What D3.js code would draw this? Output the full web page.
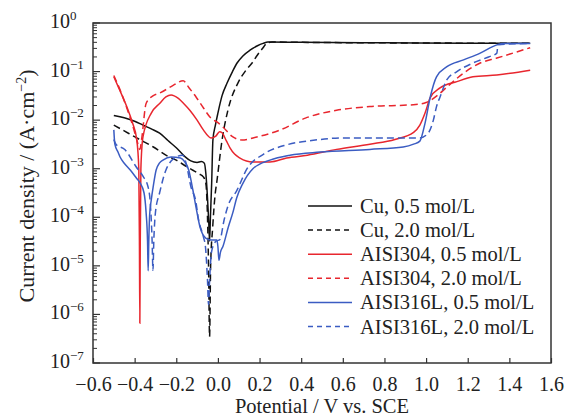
<!DOCTYPE html>
<html>
<head>
<meta charset="utf-8">
<script src="https://cdn.jsdelivr.net/npm/d3@7"></script>
<style>
  body { margin: 0; background: #fff; }
  svg { font-family: "Liberation Serif", "Times New Roman", serif; }
</style>
</head>
<body>
<svg id="chart" width="566" height="417"></svg>
<script>
// potential (V vs. SCE), current density (A/cm2)
let cu05 = [[-0.50, 1.25e-2], [-0.45, 1.12e-2], [-0.40, 9.5e-3], [-0.36, 7.9e-3], [-0.32, 6.6e-3],
  [-0.28, 5.4e-3], [-0.24, 3.8e-3], [-0.20, 2.7e-3], [-0.16, 1.8e-3], [-0.13, 1.45e-3], [-0.10, 1.35e-3],
  [-0.08, 1.4e-3], [-0.065, 1.3e-3], [-0.058, 8e-4], [-0.05, 2.5e-4], [-0.044, 8e-5], [-0.04, 3.2e-5],
  [-0.036, 1e-4], [-0.03, 5e-4], [-0.024, 3.9e-3], [-0.012, 7.9e-3], [0.0, 1.4e-2], [0.02, 3.2e-2],
  [0.044, 5.8e-2], [0.07, 0.1], [0.092, 0.15], [0.12, 0.21], [0.154, 0.275], [0.19, 0.34], [0.217, 0.38],
  [0.24, 0.405], [0.40, 0.40], [0.80, 0.39], [1.20, 0.385], [1.50, 0.385]]
let cu20 = [[-0.50, 7.9e-3], [-0.45, 6.0e-3], [-0.39, 4.3e-3], [-0.35, 3.5e-3], [-0.31, 2.8e-3],
  [-0.25, 1.9e-3], [-0.20, 1.5e-3], [-0.15, 1.1e-3], [-0.12, 9.3e-4], [-0.09, 7.8e-4], [-0.07, 6.8e-4],
  [-0.058, 5e-4], [-0.05, 1e-4], [-0.045, 1e-5], [-0.04, 3.5e-7], [-0.035, 1e-5], [-0.025, 6.3e-5],
  [-0.015, 2.5e-4], [-0.004, 5.9e-4], [0.02, 3.9e-3], [0.048, 1.6e-2], [0.096, 5.8e-2], [0.13, 0.1],
  [0.164, 0.15], [0.19, 0.22], [0.217, 0.31], [0.236, 0.39], [0.26, 0.405], [0.40, 0.40], [0.80, 0.39],
  [1.20, 0.385], [1.50, 0.385]]
let ss304_05 = [[-0.50, 7.8e-2], [-0.47, 4.0e-2], [-0.44, 2.0e-2], [-0.41, 8.7e-3], [-0.39, 4.0e-3],
  [-0.38, 1.0e-3], [-0.377, 3.2e-5], [-0.375, 6.6e-7], [-0.373, 3.2e-5], [-0.37, 1.0e-3], [-0.36, 4.5e-3],
  [-0.32, 1.4e-2], [-0.28, 2.2e-2], [-0.25, 3.0e-2], [-0.225, 3.3e-2], [-0.19, 2.8e-2], [-0.16, 2.1e-2],
  [-0.135, 1.6e-2], [-0.10, 1.0e-2], [-0.07, 6.3e-3], [-0.033, 4.3e-3], [-0.01, 4.7e-3], [0.008, 5.8e-3],
  [0.02, 5.5e-3], [0.04, 3.8e-3], [0.058, 2.7e-3], [0.08, 2.0e-3], [0.106, 1.66e-3], [0.168, 1.38e-3],
  [0.25, 1.38e-3], [0.33, 1.66e-3], [0.43, 1.9e-3], [0.57, 2.5e-3], [0.73, 3.2e-3], [0.85, 4.0e-3],
  [0.94, 5.6e-3], [0.97, 7.9e-3], [0.995, 1.4e-2], [1.02, 2.9e-2], [1.067, 4.6e-2], [1.148, 6.2e-2],
  [1.225, 7.8e-2], [1.34, 8.5e-2], [1.50, 0.107]]
let ss304_20 = [[-0.50, 8.3e-2], [-0.47, 4.2e-2], [-0.44, 1.9e-2], [-0.41, 7.9e-3], [-0.39, 4.0e-3],
  [-0.375, 2.5e-3], [-0.365, 4.5e-3], [-0.345, 2.2e-2], [-0.31, 3.2e-2], [-0.28, 3.6e-2], [-0.215, 5.2e-2],
  [-0.167, 6.5e-2], [-0.14, 4.7e-2], [-0.105, 3.0e-2], [-0.07, 1.8e-2], [-0.034, 1.1e-2], [0.0, 8.9e-3],
  [0.024, 7.2e-3], [0.072, 4.5e-3], [0.115, 3.9e-3], [0.187, 4.5e-3], [0.30, 6.3e-3], [0.42, 1.1e-2],
  [0.57, 1.6e-2], [0.73, 1.9e-2], [0.95, 2.1e-2], [1.0, 2.3e-2], [1.057, 3.3e-2], [1.10, 4.8e-2],
  [1.18, 9.3e-2], [1.26, 0.15], [1.34, 0.19], [1.50, 0.31]]
let ss316_05 = [[-0.50, 6.3e-3], [-0.495, 3.2e-3], [-0.48, 2.2e-3], [-0.47, 1.74e-3], [-0.45, 1.3e-3],
  [-0.42, 9.3e-4], [-0.39, 6.3e-4], [-0.374, 5.1e-4], [-0.355, 3.2e-4], [-0.345, 1.26e-4], [-0.338, 3.2e-5],
  [-0.335, 7.9e-6], [-0.332, 3.2e-5], [-0.328, 1.1e-4], [-0.32, 2.3e-4], [-0.31, 4.5e-4], [-0.297, 9.3e-4],
  [-0.28, 1.32e-3], [-0.264, 1.5e-3], [-0.225, 1.74e-3], [-0.18, 1.66e-3], [-0.16, 1.4e-3], [-0.14, 9.3e-4],
  [-0.12, 3.6e-4], [-0.105, 1.6e-4], [-0.086, 6.3e-5], [-0.057, 3.7e-5], [-0.03, 3.4e-5], [-0.005, 3.4e-5],
  [0.0, 2.5e-5], [0.005, 1.3e-5], [0.012, 1.9e-5], [0.024, 2.5e-5], [0.05, 6.3e-5], [0.072, 1.26e-4],
  [0.09, 2.5e-4], [0.12, 5.0e-4], [0.168, 1.0e-3], [0.25, 1.5e-3], [0.346, 1.9e-3], [0.49, 2.2e-3],
  [0.73, 2.5e-3], [0.89, 2.8e-3], [0.94, 3.2e-3], [0.97, 3.7e-3], [0.995, 8.7e-3], [1.02, 3.0e-2],
  [1.05, 7.8e-2], [1.10, 0.126], [1.18, 0.174], [1.26, 0.24], [1.34, 0.355], [1.37, 0.38], [1.50, 0.38]]
let ss316_20 = [[-0.50, 4.0e-3], [-0.49, 3.2e-3], [-0.446, 2.45e-3], [-0.393, 1.1e-3], [-0.36, 7.0e-4],
  [-0.336, 4.3e-4], [-0.325, 2.0e-4], [-0.316, 3.2e-5], [-0.312, 8.1e-6], [-0.308, 3.2e-5], [-0.30, 1.26e-4],
  [-0.28, 3.2e-4], [-0.25, 9.3e-4], [-0.20, 1.74e-3], [-0.17, 1.9e-3], [-0.153, 1.3e-3], [-0.13, 4.3e-4],
  [-0.105, 2.0e-4], [-0.095, 1.0e-4], [-0.07, 4.0e-5], [-0.06, 2.5e-5], [-0.05, 5.0e-6], [-0.045, 1.6e-6],
  [-0.04, 5.0e-6], [-0.03, 2.0e-5], [-0.01, 3.2e-5], [0.01, 3.5e-5], [0.03, 8.9e-5], [0.05, 1.8e-4],
  [0.09, 3.5e-4], [0.14, 1.0e-3], [0.22, 2.0e-3], [0.33, 3.1e-3], [0.45, 3.8e-3], [0.60, 4.3e-3],
  [0.97, 4.3e-3], [1.01, 5.4e-3], [1.035, 1.0e-2], [1.05, 1.9e-2], [1.067, 3.0e-2], [1.10, 6.8e-2],
  [1.148, 0.1], [1.225, 0.15], [1.30, 0.2], [1.34, 0.24], [1.345, 0.355], [1.50, 0.38]]

let seriesNames = ["Cu, 0.5 mol/L", "Cu, 2.0 mol/L", "AISI304, 0.5 mol/L", "AISI304, 2.0 mol/L",
  "AISI316L, 0.5 mol/L", "AISI316L, 2.0 mol/L"]
let seriesData = [cu05, cu20, ss304_05, ss304_20, ss316_05, ss316_20]
let seriesColors = ["#111111", "#111111", "#e8262e", "#e8262e", "#3b5cc2", "#3b5cc2"]
let seriesDashed = [false, true, false, true, false, true]

let xTicks = [-0.6, -0.4, -0.2, 0.0, 0.2, 0.4, 0.6, 0.8, 1.0, 1.2, 1.4, 1.6]
let yExponents = [0, -1, -2, -3, -4, -5, -6, -7]

let margin = { left: 93, right: 15, top: 23, bottom: 54 }
let width = 566, height = 417

let svg = d3.select("#chart")

let xScale = d3.scaleLinear().domain([-0.6, 1.6]).range([margin.left, width - margin.right])
let yScale = d3.scaleLog().domain([1e-7, 1]).range([height - margin.bottom, margin.top])

// 坐标轴
let xAxis = svg.append("g")
  .attr("transform", "translate(0," + (height - margin.bottom) + ")")
  .call(d3.axisBottom(xScale).tickValues(xTicks).tickSizeInner(-5).tickSizeOuter(0)
    .tickFormat(d => d3.format(".1f")(d).replace("-", "\u2212")))
xAxis.select(".domain").remove()
xAxis.selectAll(".tick line").attr("stroke", "#333").attr("stroke-width", 1.2)
xAxis.selectAll(".tick text")
  .attr("y", 28).attr("dy", 0)
  .attr("font-size", "20px").attr("fill", "#222")
  .attr("font-family", "Liberation Serif, serif")

// log ticks: majors at decades, minors 2..9
let minorVals = []
for (let e = -7; e < 0; e++) {
  for (let m = 2; m <= 9; m++) minorVals.push(m * Math.pow(10, e))
}
let yTickG = svg.append("g")
yTickG.selectAll(".minor").data(minorVals).enter().append("line")
  .attr("x1", margin.left).attr("x2", margin.left + 4)
  .attr("y1", d => yScale(d)).attr("y2", d => yScale(d))
  .attr("stroke", "#333").attr("stroke-width", 1)
yTickG.selectAll(".major").data(yExponents).enter().append("line")
  .attr("x1", margin.left).attr("x2", margin.left + 7)
  .attr("y1", d => yScale(Math.pow(10, d))).attr("y2", d => yScale(Math.pow(10, d)))
  .attr("stroke", "#333").attr("stroke-width", 1.2)

let yLabels = svg.append("g").selectAll("text").data(yExponents).enter().append("text")
  .attr("x", 50)
  .attr("y", d => yScale(Math.pow(10, d)) + 5)
  .attr("font-size", "20px").attr("fill", "#222")
yLabels.append("tspan").text("10")
yLabels.append("tspan").attr("dy", -8).attr("font-size", "13px")
  .text(d => d === 0 ? "0" : "\u2212" + Math.abs(d))

// 曲线
let line = d3.line()
  .x(d => xScale(d[0]))
  .y(d => yScale(d[1]))
  .curve(d3.curveMonotoneX)

let plot = svg.append("g")
seriesData.forEach(function (data, i) {
  plot.append("path")
    .datum(data)
    .attr("d", line)
    .attr("fill", "none")
    .attr("stroke", seriesColors[i])
    .attr("stroke-width", 1.5)
    .attr("stroke-dasharray", seriesDashed[i] ? "7,4" : null)
})

// frame
svg.append("rect")
  .attr("x", margin.left).attr("y", margin.top)
  .attr("width", width - margin.left - margin.right)
  .attr("height", height - margin.top - margin.bottom)
  .attr("fill", "none").attr("stroke", "#333").attr("stroke-width", 1.5)

// 图例
let legend = svg.append("g").attr("transform", "translate(308,206)")
seriesNames.forEach(function (name, i) {
  let g = legend.append("g").attr("transform", "translate(0," + (i * 24.1) + ")")
  g.append("line")
    .attr("x1", 0).attr("x2", 44).attr("y1", 0).attr("y2", 0)
    .attr("stroke", seriesColors[i]).attr("stroke-width", 1.5)
    .attr("stroke-dasharray", seriesDashed[i] ? "5,4" : null)
  g.append("text")
    .attr("x", 52).attr("y", 7)
    .attr("font-size", "20.5px").attr("fill", "#222")
    .text(name)
})

// axis titles
svg.append("text")
  .attr("x", (margin.left + width - margin.right) / 2)
  .attr("y", 413)
  .attr("text-anchor", "middle")
  .attr("font-size", "20.5px").attr("fill", "#222")
  .text("Potential / V vs. SCE")

let yTitle = svg.append("text")
  .attr("transform", "translate(34,186) rotate(-90)")
  .attr("text-anchor", "middle")
  .attr("font-size", "22px").attr("fill", "#222")
yTitle.append("tspan").text("Current density / (A\u00b7cm")
yTitle.append("tspan").attr("dy", -8).attr("font-size", "14px").text("\u22122")
yTitle.append("tspan").attr("dy", 8).text(")")
</script>
</body>
</html>
